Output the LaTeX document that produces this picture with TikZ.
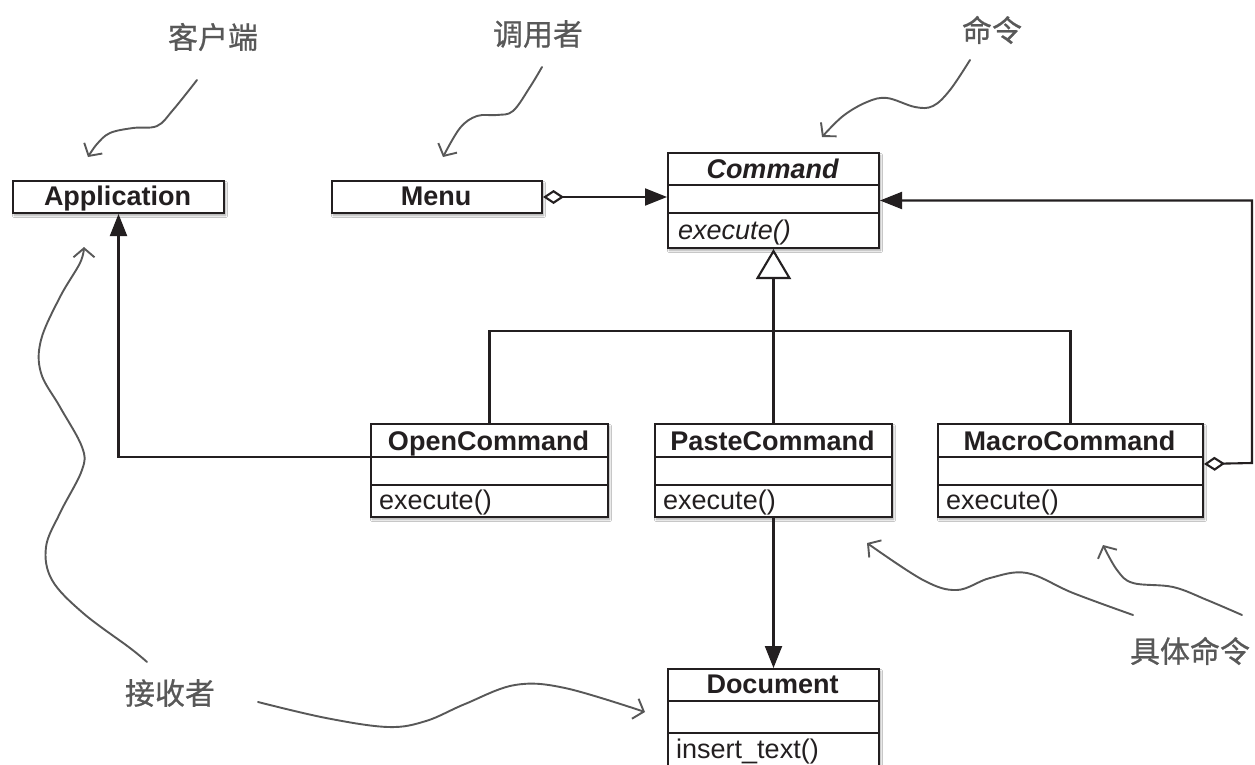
\documentclass[tikz,border=0pt]{standalone}
\usepackage{fontspec}
\setmainfont{Liberation Sans}
\newfontfamily\cjk[FakeBold=0.7]{Noto Sans CJK SC}
\usetikzlibrary{arrows.meta,shadows.blur,calc}
\definecolor{ink}{RGB}{35,31,32}
\definecolor{pen}{RGB}{88,88,88}
\newcommand\umlclass[7]{% name, left, top, width, height, divider1 y, divider2 y
  \node[box, minimum width=#4pt, minimum height=#5pt] (#1) at (#2,#3) {};
  \draw[conn] (#2,#6) coordinate (#1-d1) -- ++(#4,0);
  \draw[conn] (#2,#7) coordinate (#1-d2) -- ++(#4,0);
}
\begin{document}
\begin{tikzpicture}[x=1pt,y=-1pt,
  box/.style={draw=ink, line width=2pt, fill=white, anchor=north west, inner sep=0pt,
    blur shadow={shadow xshift=1.5pt, shadow yshift=-2.5pt, shadow blur steps=6, shadow opacity=35}},
  ttl/.style={anchor=base, font=\fontsize{27}{30}\selectfont\bfseries, text=ink, inner sep=0pt},
  mth/.style={anchor=base west, font=\fontsize{27}{30}\selectfont, text=ink, inner sep=0pt},
  conn/.style={draw=ink, line width=2.1pt},
  solid tip/.style={-{Triangle[length=22pt,width=17pt]}},
  hand/.style={draw=pen, line width=1.9pt, line cap=round, line join=round,
    -{Straight Barb[length=9pt,width=21pt,line width=1.9pt]}},
  note/.style={font=\cjk\fontsize{30}{32}\selectfont, text=pen, inner sep=0pt},
]
\useasboundingbox (0,0) rectangle (1255,765);
\fill[white] (0,0) rectangle (1255,765);

% ---- classes ----
\node[box, minimum width=211pt, minimum height=32pt] (app) at (12,180) {};
\node[ttl] (appT) at (117.5,205) {Application};
\node[box, minimum width=210pt, minimum height=32pt] (menu) at (331,180) {};
\node[ttl] (menuT) at (436,205) {Menu};

\umlclass{cmd}{667}{152}{211}{95}{185}{213}
\node[ttl, font=\fontsize{27}{30}\selectfont\bfseries\itshape] (cmdT) at (772.5,178) {Command};
\node[mth, font=\fontsize{27}{30}\selectfont\itshape] (cmdM) at (678,239) {execute()};

\umlclass{open}{370}{423}{237}{93}{457}{485}
\node[ttl] (openT) at (488.5,450) {OpenCommand};
\node[mth] (openM) at (379,509) {execute()};

\umlclass{paste}{654}{423}{237}{93}{457}{485}
\node[ttl] (pasteT) at (772.5,450) {PasteCommand};
\node[mth] (pasteM) at (663,509) {execute()};

\umlclass{macro}{937}{423}{265}{93}{457}{485}
\node[ttl] (macroT) at (1069.5,450) {MacroCommand};
\node[mth] (macroM) at (946,509) {execute()};

\umlclass{doc}{667}{668}{211}{100}{701}{733}
\node[ttl] (docT) at (772.5,693) {Document};
\node[mth] (docM) at (676,758) {insert\_text()};

% ---- connectors ----
\draw[conn, {Diamond[open,length=21pt,width=14pt,fill=white]}-{Triangle[length=22pt,width=17pt]}]
  (menu.east) -- (menu.east -| cmd.west);
\draw[conn, -{Triangle[open,length=30pt,width=35pt,fill=white]}] (paste.north) -- (cmd.south);
\coordinate (junc) at (772.5,331);
\draw[conn] (open.north) |- (junc) -| (macro.north);
\draw[conn, solid tip] (open-d1) -| (app.south);
\draw[conn, solid tip] (paste.south) -- (doc.north);
\coordinate (loopR) at (1252,463);
\draw[conn, {Diamond[open,length=21pt,width=14pt,fill=white]}-{Triangle[length=22pt,width=17pt]}]
  ([yshift=6.5pt]macro.east) -- (loopR) |- (cmd.east);

% ---- annotations ----
\node[note] (nKH) at (213,37) {客户端};
\node[note] (nDY) at (538,34) {调用者};
\node[note] (nML) at (992,30) {命令};
\node[note] (nJS) at (170,693) {接收者};
\node[note] (nJT) at (1190,651) {具体命令};

\draw[hand] plot[smooth, tension=0.6] coordinates
  {(197,80) (173,110) (157,126) (133,128) (110,133) (97,144) (88,157)};
\draw[hand] plot[smooth, tension=0.6] coordinates
  {(542,67) (530,87) (513,111) (497,115) (477,116) (460,128) (443,157)};
\draw[hand] plot[smooth, tension=0.6] coordinates
  {(970,60) (950,90) (933,106) (915,107) (887,98) (867,102) (843,116) (822,137)};
\draw[hand] plot[smooth, tension=0.6] coordinates
  {(147,662) (130,648) (83,613) (52,580) (46,547) (60,513) (82,470) (82,447) (60,407) (41,373) (41,340) (60,297) (80,263) (84,247)};
\draw[hand] plot[smooth, tension=0.6] coordinates
  {(258,702) (326,718) (388,727) (426,721) (465,704) (515,685) (565,688) (645,712)};
\draw[hand] plot[smooth, tension=0.6] coordinates
  {(1133,615) (1073,593) (1027,573) (990,578) (957,590) (923,580) (867,543)};
\draw[hand] plot[smooth, tension=0.6] coordinates
  {(1242,615) (1207,600) (1173,587) (1133,583) (1117,570) (1103,545)};
\end{tikzpicture}
\end{document}
